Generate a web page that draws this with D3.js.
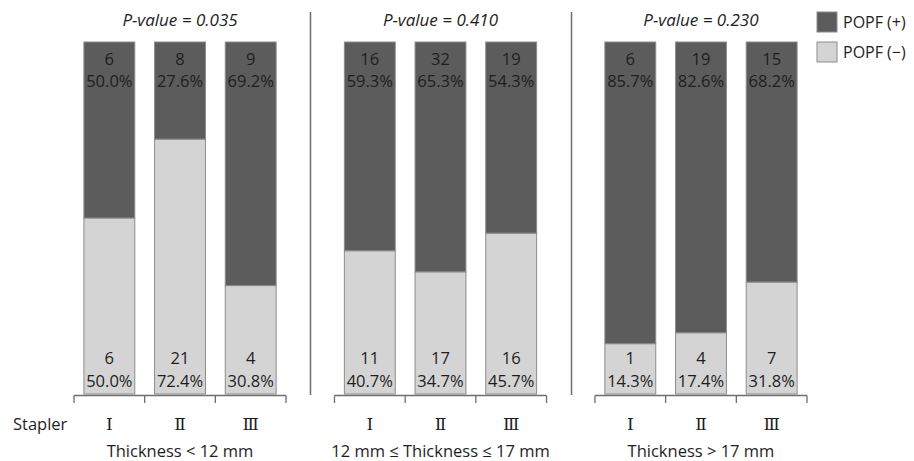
<!DOCTYPE html>
<html>
<head>
<meta charset="utf-8">
<script src="https://cdn.jsdelivr.net/npm/d3@7"></script>
<style>
  html, body { margin: 0; padding: 0; background: #fff; }
  svg { display: block; }
  text { font-family: "Open Sans", "Noto Sans", sans-serif; fill: #1e1e1e; }
  text.roman { font-family: "DejaVu Serif", "Liberation Serif", serif; }
</style>
</head>
<body>
<svg id="chart" width="914" height="461"></svg>
<script>
// ---- data ----
const groups = ["Thickness < 12 mm", "12 mm \u2264 Thickness \u2264 17 mm", "Thickness > 17 mm"];
const pValues = ["0.035", "0.410", "0.230"];
const staplers = ["\u2160", "\u2161", "\u2162"];
const seriesNames = ["POPF (+)", "POPF (\u2212)"];
const countPos = [[6, 8, 9], [16, 32, 19], [6, 19, 15]];
const pctPos = [[50.0, 27.6, 69.2], [59.3, 65.3, 54.3], [85.7, 82.6, 68.2]];
const countNeg = [[6, 21, 4], [11, 17, 16], [1, 4, 7]];
const pctNeg = [[50.0, 72.4, 30.8], [40.7, 34.7, 45.7], [14.3, 17.4, 31.8]];

const colors = { pos: "#5c5c5c", neg: "#d4d4d4", stroke: "#8c8c8c", line: "#6e6e6e" };

const svg = d3.select("#chart");

const xOuter = d3.scaleBand().domain(groups).range([74, 807]).paddingInner(0.186).paddingOuter(0);
const xInner = d3.scaleBand().domain(staplers).range([0, xOuter.bandwidth()]).padding(0);
const y = d3.scaleLinear().domain([0, 100]).range([394, 42]);
const barFrac = 0.72;
const lblSize = 16.5;

groups.forEach((g, gi) => {
  const gx = xOuter(g);
  const panel = svg.append("g").attr("transform", `translate(${gx},0)`);
  const bw = xInner.bandwidth() * barFrac;
  const off = (xInner.bandwidth() - bw) / 2;

  staplers.forEach((s, si) => {
    const bx = xInner(s) + off;
    const neg = pctNeg[gi][si];
    panel.append("rect")
      .attr("x", bx).attr("y", y(neg)).attr("width", bw).attr("height", y(0) - y(neg))
      .attr("fill", colors.neg).attr("stroke", colors.stroke).attr("stroke-width", 1);
    panel.append("rect")
      .attr("x", bx).attr("y", y(100)).attr("width", bw).attr("height", y(neg) - y(100))
      .attr("fill", colors.pos).attr("stroke", colors.stroke).attr("stroke-width", 1);

    const cx = xInner(s) + xInner.bandwidth() / 2;
    panel.append("text").attr("x", cx).attr("y", y(100) + 23).attr("text-anchor", "middle")
      .attr("font-size", lblSize).text(countPos[gi][si]);
    panel.append("text").attr("x", cx).attr("y", y(100) + 45).attr("text-anchor", "middle")
      .attr("font-size", lblSize).text(pctPos[gi][si].toFixed(1) + "%");
    panel.append("text").attr("x", cx).attr("y", y(0) - 30).attr("text-anchor", "middle")
      .attr("font-size", lblSize).text(countNeg[gi][si]);
    panel.append("text").attr("x", cx).attr("y", y(0) - 7).attr("text-anchor", "middle")
      .attr("font-size", lblSize).text(pctNeg[gi][si].toFixed(1) + "%");

    panel.append("text").attr("class", "roman").attr("x", cx).attr("y", 430).attr("text-anchor", "middle")
      .attr("font-size", 17).text(s);
  });

  const w = xOuter.bandwidth();
  const ticks = staplers.map(s => xInner(s)).concat([w]);
  let d = `M0,395.5H${w}`;
  ticks.forEach(t => { d += `M${t},395.5V403`; });
  panel.append("path").attr("d", d).attr("fill", "none").attr("stroke", colors.line).attr("stroke-width", 1.3);

  panel.append("text").attr("x", w / 2).attr("y", 26).attr("text-anchor", "middle")
    .attr("font-size", 17).attr("font-style", "italic").text("P-value = " + pValues[gi]);

  panel.append("text").attr("x", w / 2).attr("y", 457).attr("text-anchor", "middle")
    .attr("font-size", 16.5).text(g);
});

for (let i = 1; i < groups.length; i++) {
  const sx = Math.round((xOuter(groups[i - 1]) + xOuter.bandwidth() + xOuter(groups[i])) / 2) + 0.5;
  svg.append("line").attr("x1", sx).attr("x2", sx).attr("y1", 12).attr("y2", 395)
    .attr("stroke", colors.line).attr("stroke-width", 1.5);
}

svg.append("text").attr("x", 13).attr("y", 430).attr("font-size", 16.5).text("Stapler");

const legend = svg.append("g").attr("transform", "translate(817,12)");
[colors.pos, colors.neg].forEach((c, i) => {
  legend.append("rect").attr("x", 0).attr("y", i * 30).attr("width", 20).attr("height", 20)
    .attr("fill", c).attr("stroke", colors.stroke).attr("stroke-width", 1);
  legend.append("text").attr("x", 26).attr("y", i * 30 + 16).attr("font-size", 16).text(seriesNames[i]);
});
</script>
</body>
</html>
